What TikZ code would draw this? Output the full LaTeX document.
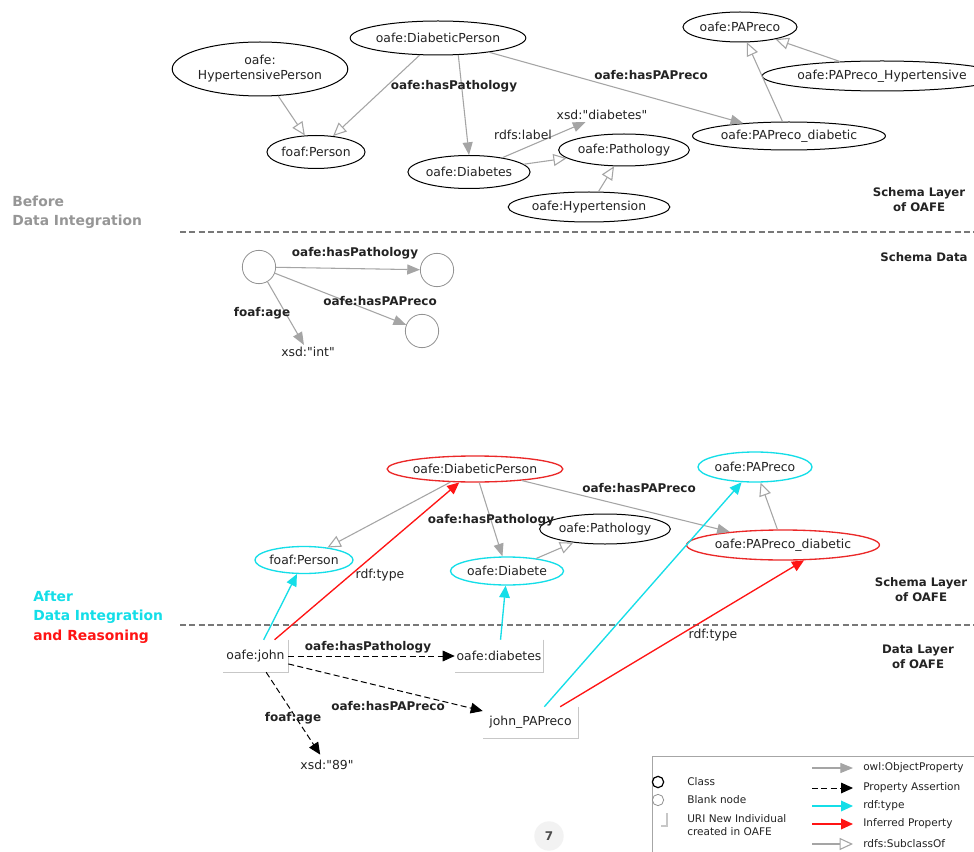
\documentclass[tikz,border=0pt]{standalone}
\usepackage{fontspec}
\setmainfont{DejaVu Sans}[Ligatures=TeXOff]
\usetikzlibrary{arrows.meta,shapes.geometric}

\definecolor{edgegray}{RGB}{165,165,165}
\definecolor{sepgray}{RGB}{120,120,120}
\definecolor{tcyan}{RGB}{20,222,232}
\definecolor{tred}{RGB}{255,20,20}
\definecolor{ered}{RGB}{235,40,40}
\definecolor{txt}{RGB}{35,35,35}
\definecolor{sidegray}{RGB}{150,150,150}

\newcommand\nodefont{\fontsize{9.3}{11.25}\selectfont}
\newcommand\edgefont{\fontsize{9}{11}\selectfont\bfseries}
\newcommand\layerfont{\fontsize{8.8}{11.25}\selectfont\bfseries}
\newcommand\sidefont{\fontsize{10.4}{14.5}\selectfont\bfseries}
\newcommand\legfont{\fontsize{7.9}{9.2}\selectfont}

\begin{document}
\begin{tikzpicture}[x=0.75pt,y=-0.75pt,
  sz/.style 2 args={minimum width=#1*0.75pt, minimum height=#2*0.75pt},
  cls/.style={ellipse, draw=black, line width=0.75pt, inner sep=0pt, font=\nodefont, text=txt},
  cyancls/.style={cls, draw=tcyan, line width=1pt},
  redcls/.style={cls, draw=ered, line width=1pt},
  blank/.style={circle, draw=gray!85, line width=0.6pt, minimum size=25pt, inner sep=0pt},
  lit/.style={font=\nodefont, text=txt, inner sep=1.5pt},
  indiv/.style={font=\nodefont, text=txt, inner sep=0pt},
  uribox/.style={draw=black!22, line width=0.9pt},
  elab/.style={font=\edgefont, text=txt, inner sep=0pt},
  plab/.style={font=\nodefont, text=txt, inner sep=0pt},
  layer/.style={font=\layerfont, text=txt, align=center, inner sep=0pt},
  objprop/.style={draw=edgegray, line width=0.8pt, -{Triangle[length=9.5pt,width=7.5pt]}},
  subcls/.style={draw=edgegray, line width=0.8pt, -{Triangle[open,length=10pt,width=9pt,fill=white]}},
  assert/.style={draw=black, line width=0.75pt, dash pattern=on 4.5pt off 2.5pt, -{Triangle[length=9pt,width=8pt]}},
  rdftype/.style={draw=tcyan, line width=1pt, -{Triangle[length=9pt,width=8pt]}},
  inferred/.style={draw=tred, line width=1pt, -{Triangle[length=9pt,width=8pt]}},
  sep/.style={draw=sepgray, line width=0.8pt, dash pattern=on 4.5pt off 2.5pt},
  legtext/.style={font=\legfont, text=txt, anchor=west, inner sep=0pt, align=left}
]
\useasboundingbox[fill=white] (0,0) rectangle (974,852);

% ---------------- schema layer (before integration) ----------------
\node[cls, sz={160}{34}] (tDP) at (438,38) {oafe:DiabeticPerson};
\node[cls, sz={150}{54}, align=center] (tHP) at (260,69) {oafe:\\HypertensivePerson};
\node[cls, sz={88}{33}] (tPerson) at (316,152) {foaf:Person};
\node[cls, sz={104}{33}] (tDiab) at (469,172) {oafe:Diabetes};
\node[cls, sz={106}{32}] (tPath) at (624,150) {oafe:Pathology};
\node[cls, sz={122}{30}] (tHyp) at (589,207) {oafe:Hypertension};
\node[cls, sz={105}{30}] (tPA) at (740,27) {oafe:PAPreco};
\node[cls, sz={180}{30}] (tPAH) at (882,76) {oafe:PAPreco\_Hypertensive};
\node[cls, sz={162}{28}] (tPAD) at (789,136) {oafe:PAPreco\_diabetic};
\node[lit] (tXsd) at (602,115) {xsd:"diabetes"};

\draw[subcls] (tHP) -- (tPerson);
\draw[subcls] (tDP) -- (tPerson);
\draw[objprop] (tDP.-40) -- (tDiab.north);
\draw[objprop] (tDP) -- (tPAD);
\draw[objprop] (tDiab) -- (tXsd);
\draw[subcls] (tDiab) -- (tPath);
\draw[subcls] (tHyp) -- (tPath);
\draw[subcls] (tPAD) -- (tPA);
\draw[subcls] (tPAH) -- (tPA);

\node[elab] (lHasPathT) at (454,86) {oafe:hasPathology};
\node[elab] (lHasPAT) at (651,75) {oafe:hasPAPreco};
\node[plab] (lLabel) at (523,135) {rdfs:label};

\node[layer] (layerS1) at (919,200) {Schema Layer\\of OAFE};
\node[font=\sidefont, text=sidegray, anchor=west, align=left, inner sep=0pt] (before) at (12,212.5) {Before\\Data Integration};

\draw[sep] (180,232) -- (974,232);

% ---------------- schema data ----------------
\node[layer] (layerSD) at (924,257) {Schema Data};
\node[blank] (s1) at (259,267) {};
\node[blank] (s2) at (437,270) {};
\node[blank] (s3) at (422,331) {};
\node[lit] (xint) at (308,352) {xsd:"int"};

\draw[objprop] (s1) -- (s2);
\draw[objprop] (s1) -- (s3);
\draw[objprop] (s1) -- (xint);

\node[elab] (lHasPathS) at (355,253) {oafe:hasPathology};
\node[elab] (lHasPAS) at (380,301) {oafe:hasPAPreco};
\node[elab] (lAgeS) at (262,313) {foaf:age};

% ---------------- schema layer (after integration) ----------------
\node[redcls, sz={140}{26}] (bDP) at (475,469) {oafe:DiabeticPerson};
\node[cyancls, sz={88}{27}] (bPerson) at (304,560) {foaf:Person};
\node[cyancls, sz={103}{28}] (bDiab) at (507,571) {oafe:Diabete};
\node[cls, sz={104}{30}] (bPath) at (605,529) {oafe:Pathology};
\node[cyancls, sz={104}{30}] (bPA) at (755,467) {oafe:PAPreco};
\node[redcls, sz={161}{30}] (bPAD) at (783,545) {oafe:PAPreco\_diabetic};

\draw[subcls] (bDP) -- (bPerson);
\draw[objprop] (bDP) -- (bDiab);
\draw[subcls] (bDiab) -- (bPath);
\draw[objprop] (bDP) -- (bPAD);
\draw[subcls] (bPAD) -- (bPA);

\node[elab] (lHasPathB) at (491,520) {oafe:hasPathology};
\node[elab] (lHasPAB) at (639,488) {oafe:hasPAPreco};

\node[layer] (layerS2) at (921,590) {Schema Layer\\of OAFE};
\node[font=\sidefont, anchor=west, align=left, inner sep=0pt] (after) at (33,617) {\textcolor{tcyan}{After}\\\textcolor{tcyan}{Data Integration}\\\textcolor{tred}{and Reasoning}};

\draw[sep] (180,625) -- (974,625);

% ---------------- data layer ----------------
\node[layer] (layerD) at (918,657) {Data Layer\\of OAFE};

\node[indiv, sz={65}{32}] (john) at (255.5,656) {oafe:john};
\node[indiv, sz={88}{32}] (diab) at (499,656) {oafe:diabetes};
\node[indiv, sz={95}{31}] (jPA) at (530.5,722.5) {john\_PAPreco};
\node[lit, inner sep=4pt] (x89) at (327,765) {xsd:"89"};
\foreach \n in {john,diab,jPA}
  \draw[uribox] (\n.north east) -- (\n.south east) -- (\n.south west);

\draw[assert] (john) -- (diab);
\draw[assert] (john) -- (jPA);
\draw[assert] (john) -- (x89);
\node[elab] (lHasPathD) at (368,647) {oafe:hasPathology};
\node[elab] (lHasPAD) at (388,706) {oafe:hasPAPreco};
\node[elab] (lAgeD) at (293,718) {foaf:age};

\draw[rdftype] (john) -- (bPerson);
\draw[inferred] (john) -- (bDP);
\draw[rdftype] (diab) -- (bDiab);
\draw[rdftype] (jPA) -- (bPA);
\draw[inferred] (jPA.28) -- (bPAD.-36);
\node[plab] (lType1) at (380,575) {rdf:type};
\node[plab] (lType2) at (713,635) {rdf:type};

% ---------------- legend ----------------
\draw[draw=gray!70, line width=0.6pt] (652,756) rectangle (990,870);
\node[circle, draw=black, line width=0.9pt, minimum size=8.5pt, inner sep=0pt] (kClass) at (658,782) {};
\node[circle, draw=gray!85, line width=0.6pt, minimum size=8.5pt, inner sep=0pt] (kBlank) at (658,800) {};
\coordinate (kUri) at (667,826);
\draw[draw=black!22, line width=0.9pt] ([yshift=13*0.75pt]kUri) -- (kUri) -- ([xshift=-6*0.75pt]kUri);
\node[legtext] (tClass) at (687,782) {Class};
\node[legtext] (tBlank) at (687,800) {Blank node};
\node[legtext] (tUri) at (687,825) {URI New Individual\\created in OAFE};

\foreach \y/\st/\lab [count=\i] in {768/objprop/owl:ObjectProperty, 788/assert/Property Assertion, 806/rdftype/rdf:type, 824/inferred/Inferred Property, 844/subcls/rdfs:SubclassOf}{
  \coordinate (ka\i) at (812,\y);
  \coordinate (kb\i) at (853,\y);
  \draw[\st] (ka\i) -- (kb\i);
  \node[legtext] (kt\i) at (863,\y) {\lab};
}

% page number badge
\node[circle, fill=gray!10, minimum size=22pt, inner sep=0pt, font=\fontsize{9}{10}\selectfont\bfseries, text=black!70] (pageno) at (549,836) {7};
\end{tikzpicture}
\end{document}
